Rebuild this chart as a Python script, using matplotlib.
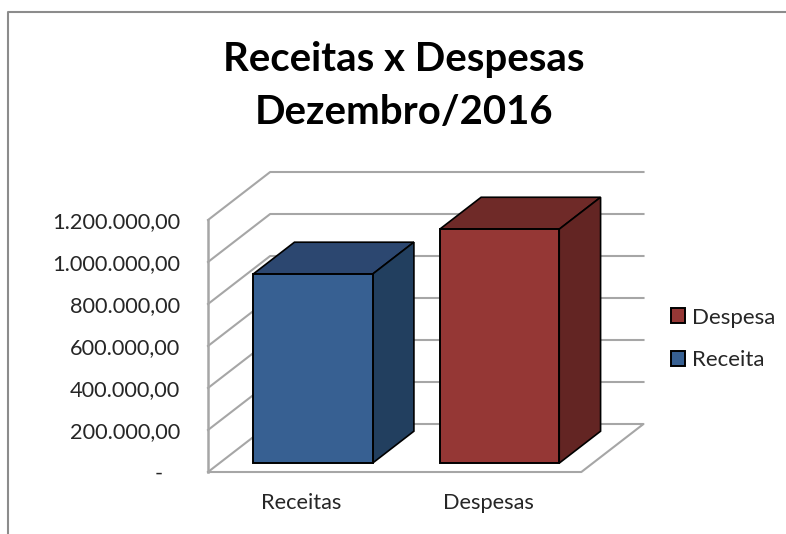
import matplotlib
matplotlib.use('Agg')
import matplotlib.pyplot as plt
from matplotlib.lines import Line2D
from matplotlib.patches import Patch

plt.rcParams['font.family'] = ['Lato', 'DejaVu Sans']

# Data
categories = ['Receitas', 'Despesas']
series_names = ['Receita', 'Despesa']
values = [900000, 1114000]
ticks = [0, 200000, 400000, 600000, 800000, 1000000, 1200000]
tick_labels = ['-   ', '200.000,00', '400.000,00', '600.000,00', '800.000,00', '1.000.000,00', '1.200.000,00']
title = 'Receitas x Despesas\nDezembro/2016'

# Colours: front, top, side
blue = ['#376092', '#2c4770', '#223f5f']
red = ['#953735', '#6f2a28', '#632523']
grid_color = '#a6a6a6'

# Fake 3D: how far the back wall sits from the front plane, in data units
depth_x = 0.333
depth_y = 228571
x_left = -0.5
x_right = 1.5
bar_width = 0.64
d0 = 0.185
d1 = 0.85

W, H = 786, 534
fig = plt.figure(figsize=(W / 100, H / 100), dpi=100)
ax = fig.add_axes([208 / W, (H - 472) / H, (643.5 - 208) / W, (472 - 172) / H])
ax.set_xlim(x_left, x_right + depth_x)
ax.set_ylim(0, 1200000 + depth_y)
for s in ax.spines.values():
    s.set_visible(False)
ax.patch.set_visible(False)

# Walls and floor
for v in ticks[1:]:
    ax.plot([x_left, x_left + depth_x, x_right + depth_x],
            [v, v + depth_y, v + depth_y], color=grid_color, lw=1.5, clip_on=False, zorder=1)
ax.plot([x_left, x_left], [0, ticks[-1]], color=grid_color, lw=1.8, clip_on=False, zorder=1)
ax.plot([x_left, x_left + depth_x, x_right + depth_x, x_right, x_left],
        [0, depth_y, depth_y, 0, 0], color=grid_color, lw=1.5, clip_on=False, zorder=1)

# Bars
for i, (val, cols) in enumerate(zip(values, [blue, red])):
    l = i - bar_width / 2 + d0 * depth_x
    r = l + bar_width
    b = d0 * depth_y
    t = b + val
    dx = (d1 - d0) * depth_x
    dy = (d1 - d0) * depth_y
    ax.bar(l, val, bar_width, bottom=b, align='edge', color=cols[0], edgecolor='black', lw=1.4, zorder=3, clip_on=False)
    ax.fill([l, l + dx, r + dx, r], [t, t + dy, t + dy, t], facecolor=cols[1], edgecolor='black', lw=1.2, zorder=2, clip_on=False)
    ax.fill([r, r + dx, r + dx, r], [b, b + dy, t + dy, t], facecolor=cols[2], edgecolor='black', lw=1.2, zorder=2, clip_on=False)

# Axis labels
ax.set_yticks(ticks)
ax.set_yticklabels(tick_labels, fontsize=15.7, color='#262626')
ax.tick_params(axis='y', length=0, pad=20)
ax.set_xticks(range(len(categories)))
ax.set_xticklabels(categories, fontsize=15.7, color='#262626')
ax.tick_params(axis='x', length=0, pad=15)

# Legend, reversed as in the reference
handles = [Patch(facecolor=red[0], edgecolor='black', lw=1.4), Patch(facecolor=blue[0], edgecolor='black', lw=1.4)]
fig.legend(handles, [series_names[1], series_names[0]], loc='center left',
           bbox_to_anchor=(651 / W, (H - 339) / H), frameon=False, fontsize=16,
           handlelength=0.63, handleheight=0.63, handletextpad=0.3, labelspacing=1.03, labelcolor='#262626')

# Title
fig.text(404 / W, (H - 86) / H, title, ha='center', va='center', fontsize=28.9,
         fontweight='bold', color='black', linespacing=1.5)

# Chart frame, cut off on the right and bottom in the reference
fig.add_artist(Line2D([8 / W, 8 / W, 1], [0, (H - 12) / H, (H - 12) / H], color='#8c8c8c', lw=1.5,
                      transform=fig.transFigure))

fig.savefig('out.png', dpi=100, facecolor='white')
